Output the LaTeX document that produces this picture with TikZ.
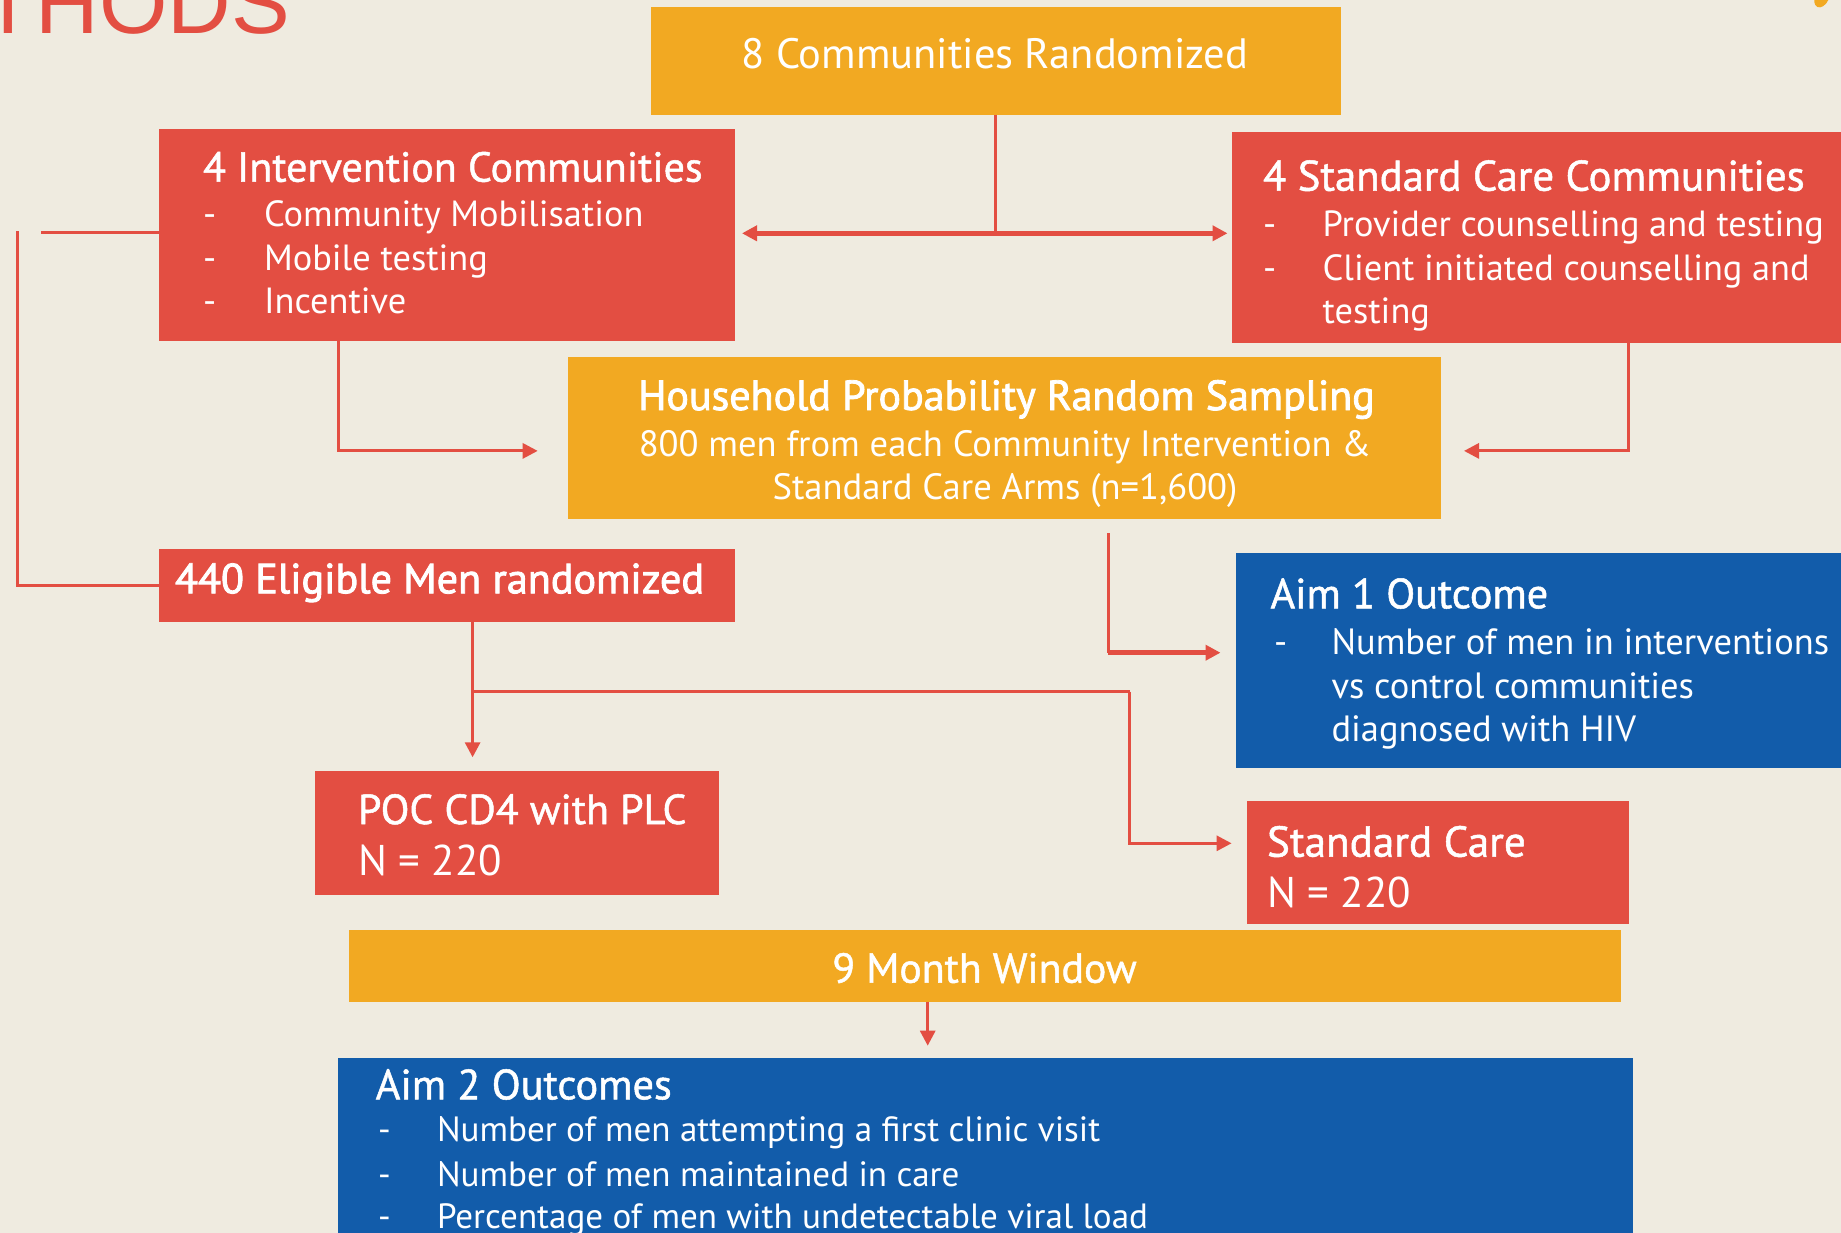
\documentclass[tikz,border=0pt]{standalone}
\usepackage{fontspec}
\setmainfont{PT Sans}
\newfontfamily\medfont{PT Sans}[FakeBold=1.2]
\newfontfamily\semfont{PT Sans}[FakeBold=2]
\newfontfamily\ttlfont{Liberation Sans}
\usetikzlibrary{arrows.meta,fit}
\definecolor{bg}{RGB}{239,235,224}
\definecolor{myred}{RGB}{227,78,66}
\definecolor{myorange}{RGB}{242,169,34}
\definecolor{myblue}{RGB}{18,92,170}
\newcommand\fs[1]{\fontsize{#1}{#1}\selectfont}
\newcommand\fm[1]{\medfont\fontsize{#1}{#1}\selectfont}
\newcommand\fb[1]{\semfont\fontsize{#1}{#1}\selectfont}
\tikzset{
  box/.style={inner sep=0pt, outer sep=0pt, draw=none},
  txt/.style={inner sep=0pt, outer sep=0pt, text=white, anchor=base west},
  conn/.style={draw=myred, line width=3pt},
  thickconn/.style={draw=myred, line width=5pt},
  tip/.style={-{Triangle[length=15pt,width=15pt]}},
  dtip/.style={{Triangle[length=15pt,width=15pt]}-{Triangle[length=15pt,width=15pt]}}
}
\begin{document}
\begin{tikzpicture}[x=1pt,y=-1pt]
\useasboundingbox (0,0) rectangle (1841,1233);
\clip (0,0) rectangle (1841,1233);
\fill[bg] (0,0) rectangle (1841,1233);

% title fragment and corner mark
\node[inner sep=0pt, anchor=base east, text=myred, font={\ttlfont\fontsize{88}{88}\selectfont}] (methods) at (290,34) {METHODS};
\fill[myorange, rotate around={-25:(1822,-3)}] (1822,-3) ellipse [x radius=7pt, y radius=11pt];

% boxes
\node[box, fill=myorange, fit={(651,7) (1341,115)}] (top) {};
\node[box, fill=myred, fit={(158.5,129) (735,341)}] (inter) {};
\node[box, fill=myred, fit={(1232,132) (1850,343)}] (stdcom) {};
\node[box, fill=myorange, fit={(568,357) (1441,519)}] (house) {};
\node[box, fill=myred, fit={(158.5,549) (735,622)}] (elig) {};
\node[box, fill=myblue, fit={(1236,553) (1850,767.5)}] (aim1) {};
\node[box, fill=myred, fit={(315,771) (718.5,894.5)}] (poc) {};
\node[box, fill=myred, fit={(1247,801) (1628.5,924)}] (stdcare) {};
\node[box, fill=myorange, fit={(349,930) (1621,1001.5)}] (window) {};
\node[box, fill=myblue, fit={(338,1058) (1633,1245)}] (aim2) {};

% texts
\node[txt, anchor=base, font={\fs{42.5}}] (topT) at (995,68.3) {8 Communities Randomized};

\node[txt, font={\fm{42}}] (interH) at (203,181.7) {4 Intervention Communities};
\node[txt, font={\fs{36.4}}] (interD1) at (203,227) {-};
\node[txt, font={\fs{36.4}}] (interL1) at (264,227) {Community Mobilisation};
\node[txt, font={\fs{36.4}}] (interD2) at (203,270) {-};
\node[txt, font={\fs{36.4}}] (interL2) at (264,270) {Mobile testing};
\node[txt, font={\fs{36.4}}] (interD3) at (203,313) {-};
\node[txt, font={\fs{36.4}}] (interL3) at (264,313) {Incentive};

\node[txt, font={\fm{42.8}}] (stdcomH) at (1263,190.7) {4 Standard Care Communities};
\node[txt, font={\fs{36.4}}] (stdcomD1) at (1263,237) {-};
\node[txt, font={\fs{36.4}}] (stdcomL1) at (1322.6,237) {Provider counselling and testing};
\node[txt, font={\fs{36.4}}] (stdcomD2) at (1263,280) {-};
\node[txt, font={\fs{36.4}}] (stdcomL2) at (1322.6,280) {Client initiated counselling and};
\node[txt, font={\fs{36.4}}] (stdcomL3) at (1322.6,323) {testing};

\node[txt, anchor=base, font={\fb{42}}] (houseH) at (1006.5,410) {Household Probability Random Sampling};
\node[txt, anchor=base, font={\fs{36.6}}] (houseL1) at (1005,456) {800 men from each Community Intervention \&};
\node[txt, anchor=base, font={\fs{36.6}}] (houseL2) at (1005,499) {Standard Care Arms (n=1,600)};

\node[txt, font={\fb{42.2}}] (eligT) at (175,593.3) {440 Eligible Men randomized};

\node[txt, font={\fm{42.2}}] (aim1H) at (1270.5,608.3) {Aim 1 Outcome};
\node[txt, font={\fs{36.5}}] (aim1D1) at (1274,654) {-};
\node[txt, font={\fs{36.5}}] (aim1L1) at (1331.5,654) {Number of men in interventions};
\node[txt, font={\fs{36.5}}] (aim1L2) at (1331.5,698.3) {vs control communities};
\node[txt, font={\fs{36.5}}] (aim1L3) at (1331.5,741) {diagnosed with HIV};

\node[txt, font={\fm{41.9}}] (pocH) at (358,824) {POC CD4 with PLC};
\node[txt, font={\fs{43}}] (pocN) at (358,875) {N = 220};

\node[txt, font={\fm{43.2}}] (stdcareH) at (1267,856.7) {Standard Care};
\node[txt, font={\fs{43}}] (stdcareN) at (1267,907) {N = 220};

\node[txt, anchor=base, font={\fm{41.8}}] (windowT) at (984.5,982.7) {9 Month Window};

\node[txt, font={\fm{42.3}}] (aim2H) at (375.7,1099.3) {Aim 2 Outcomes};
\node[txt, font={\fs{35.1}}] (aim2D1) at (378,1141.7) {-};
\node[txt, font={\fs{35.1}}] (aim2L1) at (437,1141.7) {Number of men attempting a first clinic visit};
\node[txt, font={\fs{35.1}}] (aim2D2) at (378,1186) {-};
\node[txt, font={\fs{35.1}}] (aim2L2) at (437,1186) {Number of men maintained in care};
\node[txt, font={\fs{35.1}}] (aim2D3) at (378,1228.3) {-};
\node[txt, font={\fs{35.1}}] (aim2L3) at (437,1228.3) {Percentage of men with undetectable viral load};

% connector points
\coordinate (j1) at (995.5,233.3);
\coordinate (tL) at (742,233.3);
\coordinate (tR) at (1227.5,233.3);
\coordinate (lb) at (17,231);
\coordinate (lb2) at (41,232.3);
\coordinate (k3) at (338,450.9);
\coordinate (t3) at (537.7,450.9);
\coordinate (k4) at (1628.5,450.9);
\coordinate (t4) at (1464,450.9);
\coordinate (s5) at (1108.4,533.3);
\coordinate (k5) at (1108.4,652.7);
\coordinate (t5) at (1220.5,652.7);
\coordinate (k6) at (472.6,691.7);
\coordinate (t6) at (472.6,757.3);
\coordinate (k7) at (1129.7,691.7);
\coordinate (t7) at (1231.6,843.3);
\coordinate (t8) at (927.7,1045.7);

% connectors
\draw[conn] (top.south -| j1) -- (j1);
\draw[thickconn, dtip] (tL) -- (tR);
\draw[conn] (elig.west) -| (lb);
\draw[conn] (lb2) -- (inter.west |- lb2);
\draw[conn, tip] (inter.south -| k3) |- (t3);
\draw[conn, tip] (stdcom.south -| k4) |- (t4);
\draw[conn] (s5) -- (k5);
\draw[thickconn, tip] (k5) -- (t5);
\draw[conn, tip] (elig.south -| t6) -- (t6);
\draw[conn] (k6) -- (k7);
\draw[conn, tip] (k7) |- (t7);
\draw[conn, tip] (window.south -| t8) -- (t8);
\end{tikzpicture}
\end{document}
